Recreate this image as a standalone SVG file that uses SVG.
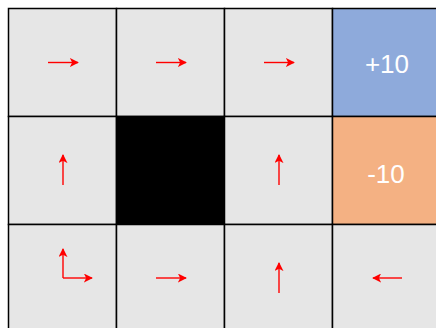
<svg xmlns="http://www.w3.org/2000/svg" width="436" height="328" viewBox="0 0 436 328">
<style>
.cell{fill:#e6e6e6;stroke:#000;stroke-width:1.5}
.arr{stroke:#ff0000;stroke-width:1.4;fill:none;marker-end:url(#ah)}
.lbl{font-family:"Liberation Sans",Arial,sans-serif;font-size:26px;fill:#fff;text-anchor:middle}
</style>
<defs>
<marker id="ah" viewBox="0 0 10 10" refX="9" refY="5" markerWidth="9" markerHeight="9" markerUnits="userSpaceOnUse" orient="auto">
<path d="M0,0 L10,5 L0,10 L2.5,5 Z" fill="#ff0000"/>
</marker>
</defs>
<rect width="436" height="328" fill="#ffffff"/>
<g id="c00"><rect class="cell" x="8.5" y="8.5" width="108" height="108"/></g>
<g id="c01"><rect class="cell" x="116.5" y="8.5" width="108" height="108"/></g>
<g id="c02"><rect class="cell" x="224.5" y="8.5" width="108" height="108"/></g>
<g id="c03"><rect class="cell" x="332.5" y="8.5" width="108" height="108" style="fill:#8eaadb"/><text class="lbl" x="387" y="72.5">+10</text></g>
<g id="c10"><rect class="cell" x="8.5" y="116.5" width="108" height="108"/></g>
<g id="c11"><rect class="cell" x="116.5" y="116.5" width="108" height="108" style="fill:#000"/></g>
<g id="c12"><rect class="cell" x="224.5" y="116.5" width="108" height="108"/></g>
<g id="c13"><rect class="cell" x="332.5" y="116.5" width="108" height="108" style="fill:#f4b183"/><text class="lbl" x="386" y="183">-10</text></g>
<g id="c20"><rect class="cell" x="8.5" y="224.5" width="108" height="108"/></g>
<g id="c21"><rect class="cell" x="116.5" y="224.5" width="108" height="108"/></g>
<g id="c22"><rect class="cell" x="224.5" y="224.5" width="108" height="108"/></g>
<g id="c23"><rect class="cell" x="332.5" y="224.5" width="108" height="108"/></g>
<g id="connectors">
<line class="arr" x1="48" y1="62.5" x2="78" y2="62.5"/>
<line class="arr" x1="156" y1="62.5" x2="186" y2="62.5"/>
<line class="arr" x1="264" y1="62.5" x2="294" y2="62.5"/>
<line class="arr" x1="63" y1="185" x2="63" y2="155"/>
<line class="arr" x1="279" y1="185" x2="279" y2="155"/>
<line class="arr" x1="63" y1="278" x2="63" y2="249"/>
<line class="arr" x1="63" y1="278" x2="92" y2="278"/>
<line class="arr" x1="156" y1="278" x2="186" y2="278"/>
<line class="arr" x1="279" y1="293" x2="279" y2="263"/>
<line class="arr" x1="402" y1="278" x2="373" y2="278"/>
</g>
</svg>
